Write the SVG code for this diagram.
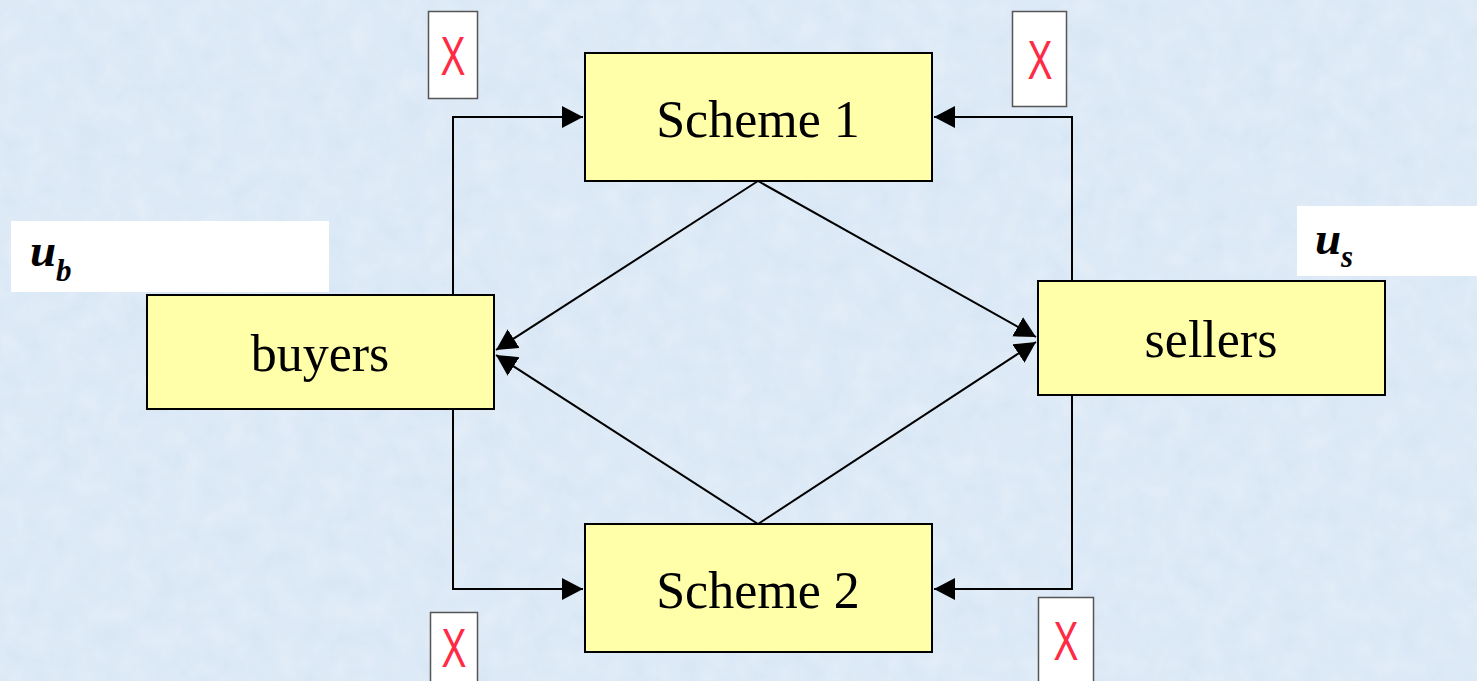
<svg xmlns="http://www.w3.org/2000/svg" width="1477" height="681" viewBox="0 0 1477 681">
<style>
.node{fill:#ffffaa;stroke:#000;stroke-width:2}
.lbl{font-family:"Liberation Serif",serif;font-size:52px;fill:#000;text-anchor:middle}
.xbox{fill:#fff;stroke:#555;stroke-width:1.5}
.x{font-family:"Liberation Sans",sans-serif;font-size:55px;fill:#ff2a44;text-anchor:middle}
.wb{fill:#fff}
.u{font-family:"Liberation Serif",serif;font-weight:bold;font-style:italic;fill:#000}
.c{fill:none;stroke:#000;stroke-width:2}
</style>
<defs>
<marker id="ah" markerUnits="userSpaceOnUse" markerWidth="24" markerHeight="24" refX="21" refY="11" orient="auto">
<path d="M0,0 L21,11 L0,22 Z" fill="#000"/>
</marker>
<filter id="tex" x="0" y="0" width="100%" height="100%">
<feTurbulence type="fractalNoise" baseFrequency="0.04" numOctaves="3" seed="3" result="n"/>
<feColorMatrix in="n" type="matrix" values="0 0 0 0 1  0 0 0 0 1  0 0 0 0 1  0 0 0 0.35 -0.08" result="w"/>
<feComposite in="w" in2="SourceGraphic" operator="over"/>
</filter>
</defs>
<rect x="0" y="0" width="1477" height="681" fill="#d9e7f5" filter="url(#tex)"/>
<g id="ub">
<rect class="wb" x="11" y="221" width="318" height="71"/>
<text class="u" x="30" y="266" font-size="47">u</text>
<text class="u" x="56" y="281" font-size="31">b</text>
</g>
<g id="us">
<rect class="wb" x="1297" y="206" width="180" height="70"/>
<text class="u" x="1315" y="254" font-size="47">u</text>
<text class="u" x="1341" y="267" font-size="31">s</text>
</g>
<g id="connectors">
<polyline class="c" points="453,295 453,117 583,117" marker-end="url(#ah)"/>
<polyline class="c" points="453,409 453,589 583,589" marker-end="url(#ah)"/>
<polyline class="c" points="1072,281 1072,117 934,117" marker-end="url(#ah)"/>
<polyline class="c" points="1072,395 1072,589 934,589" marker-end="url(#ah)"/>
<line class="c" x1="758" y1="181" x2="496" y2="350" marker-end="url(#ah)"/>
<line class="c" x1="758" y1="524" x2="496" y2="355" marker-end="url(#ah)"/>
<line class="c" x1="758" y1="181" x2="1036" y2="337" marker-end="url(#ah)"/>
<line class="c" x1="758" y1="524" x2="1036" y2="342" marker-end="url(#ah)"/>
</g>
<g id="scheme1">
<rect class="node" x="585" y="53" width="347" height="128"/>
<text class="lbl" x="758" y="137">Scheme 1</text>
</g>
<g id="scheme2">
<rect class="node" x="585" y="524" width="347" height="128"/>
<text class="lbl" x="758" y="608">Scheme 2</text>
</g>
<g id="buyers">
<rect class="node" x="147" y="295" width="347" height="114"/>
<text class="lbl" x="320" y="371">buyers</text>
</g>
<g id="sellers">
<rect class="node" x="1038" y="281" width="347" height="114"/>
<text class="lbl" x="1211" y="357">sellers</text>
</g>
<g id="x1">
<rect class="xbox" x="428.5" y="11.5" width="49" height="87"/>
<text class="x" transform="translate(453,75) scale(0.68,1)">X</text>
</g>
<g id="x2">
<rect class="xbox" x="1012.5" y="11.5" width="54" height="95"/>
<text class="x" transform="translate(1040,79) scale(0.68,1)">X</text>
</g>
<g id="x3">
<rect class="xbox" x="430.5" y="612.5" width="47" height="80"/>
<text class="x" transform="translate(454,667) scale(0.68,1)">X</text>
</g>
<g id="x4">
<rect class="xbox" x="1038.5" y="597.5" width="55" height="95"/>
<text class="x" transform="translate(1066,660) scale(0.68,1)">X</text>
</g>
</svg>
